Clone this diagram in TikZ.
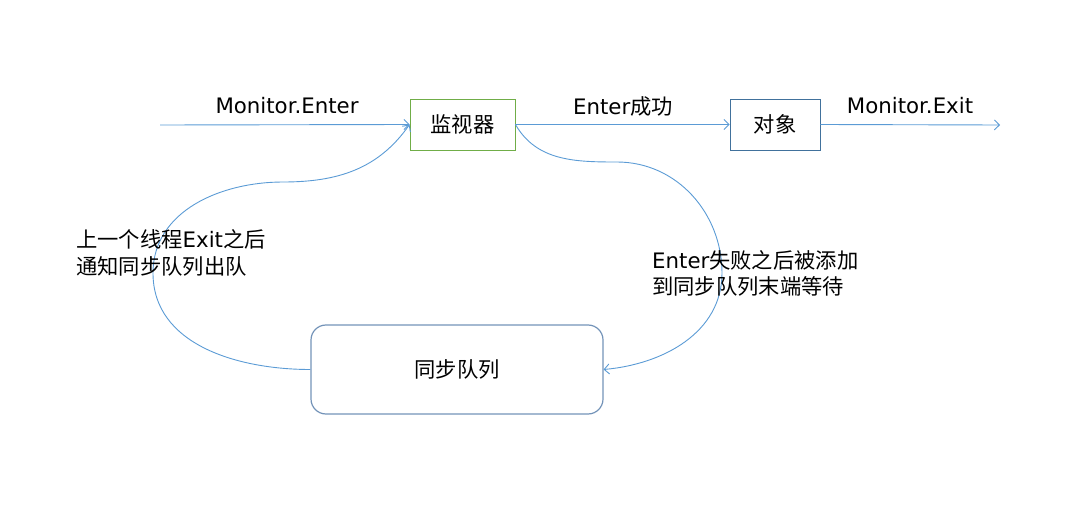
\documentclass[tikz,border=0pt]{standalone}
\usepackage{fontspec}
\setmainfont{DejaVu Sans}
\newfontfamily\cjk{Noto Sans CJK SC}
\usepackage{tikz}
\usetikzlibrary{arrows.meta}
\definecolor{flowblue}{HTML}{5B9BD5}
\definecolor{monigreen}{HTML}{70AD47}
\definecolor{objblue}{HTML}{41719C}
\definecolor{queueblue}{HTML}{7393B8}

\begin{document}
\begin{tikzpicture}[x=1pt, y=-1pt, >={Straight Barb[length=5pt,width=10pt]},
  every node/.style={font=\fontsize{21.3}{26.5}\selectfont, inner sep=0pt},
  flow/.style={->, flowblue, line width=0.9pt},
  box/.style={draw, line width=0.9pt, minimum height=51pt}]
  \useasboundingbox (0,0) rectangle (1090,508);

  % boxes
  \node[box, monigreen, minimum width=105pt, text=black] (monitor) at (462.5,124.5) {\cjk 监视器};
  \node[box, objblue, minimum width=90pt, text=black] (object) at (775,124.5) {\cjk 对象};
  \node[box, queueblue, line width=1.2pt, rounded corners=15pt, minimum width=292pt, minimum height=89pt, text=black] (queue) at (457,369.5) {\cjk 同步队列};

  % straight flow
  \coordinate (start) at (160,125);
  \coordinate (finish) at (1000,125);
  \draw[flow] (start) -- (monitor.west);
  \draw[flow] (monitor.east) -- (object.west);
  \draw[flow] (object.east) -- (finish);
  \node (enterlbl) at (287,106) {Monitor.Enter};
  \node (oklbl) at (623,106) {Enter{\cjk 成功}};
  \node (exitlbl) at (910,106) {Monitor.Exit};

  % wait and wake up
  \draw[flow] (monitor.east) to[out=-60,in=180] (617,162) to[out=0,in=90] (722,273) to[out=270,in=5] (queue.east);
  \draw[flow] (queue.west) to[out=180,in=270] (153,273) to[out=90,in=180] (283,182) to[out=0,in=235] (monitor.west);

  \node[anchor=west, align=left] (wakelbl) at (76,253) {{\cjk 上一个线程}Exit{\cjk 之后}\\{\cjk 通知同步队列出队}};
  \node[anchor=west, align=left] (waitlbl) at (652,273.5) {Enter{\cjk 失败之后被添加}\\{\cjk 到同步队列末端等待}};
\end{tikzpicture}
\end{document}
